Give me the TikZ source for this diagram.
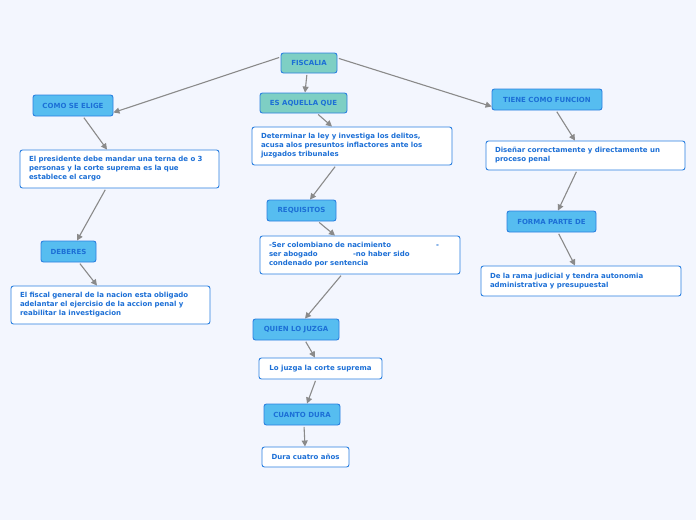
\documentclass[tikz,border=0pt]{standalone}
\usepackage{fontspec}
\setmainfont{DejaVu Sans}
\usetikzlibrary{arrows.meta}
\definecolor{bg}{HTML}{F3F6FE}
\definecolor{txt}{HTML}{1C6FD6}
\definecolor{bord}{HTML}{2A7FE0}
\definecolor{lblue}{HTML}{56BDF0}
\definecolor{teal}{HTML}{7ECFC4}
\definecolor{arr}{HTML}{8A8A8A}
\tikzset{
  base/.style={draw=bord, line width=0.9pt, rounded corners=2.5pt, text=txt,
    font=\fontsize{7}{9}\selectfont\bfseries, inner sep=0pt},
  topic/.style={base, fill=lblue, align=center},
  tealbox/.style={base, fill=teal, align=center},
  note/.style={base, fill=white, align=left, inner xsep=9pt},
  conn/.style={draw=arr, line width=1.1pt, -{Triangle[length=6pt,width=6pt]}, shorten <=1.5pt},
}
\begin{document}
\begin{tikzpicture}[x=1pt,y=-1pt]
\useasboundingbox[fill=bg] (0,0) rectangle (696,520);
% nodes
\node[tealbox, minimum width=56, minimum height=20] (fis) at (309,63) {FISCALIA};
\node[tealbox, minimum width=87, minimum height=20] (esa) at (303.5,103) {ES AQUELLA QUE};
\node[topic, minimum width=80, minimum height=21] (como) at (73,105.5) {COMO SE ELIGE};
\node[topic, minimum width=110, minimum height=21] (tiene) at (547,99.5) {TIENE COMO FUNCION};
\node[note, text width=182, minimum height=38] (det) at (352,146) {Determinar la ley y investiga los delitos,\\acusa alos presuntos inflactores ante los\\juzgados tribunales};
\node[note, text width=181, minimum height=38] (pres) at (119.5,169) {El presidente debe mandar una terna de o 3\\personas y la corte suprema es la que\\establece el cargo};
\node[topic, minimum width=55, minimum height=21] (deb) at (68.5,251.5) {DEBERES};
\node[note, text width=181, minimum height=38] (fisc) at (110.5,305) {El fiscal general de la nacion esta obligado\\adelantar el ejercisio de la accion penal y\\reabilitar la investigacion};
\node[topic, minimum width=69, minimum height=21] (req) at (301.5,210.5) {REQUISITOS};
\node[note, text width=182, minimum height=38] (ser) at (360,255) {\makebox[167pt][l]{-Ser colombiano de nacimiento}-\\\makebox[84pt][l]{ser abogado}-no haber sido\\condenado por sentencia};
\node[topic, minimum width=86, minimum height=21] (quien) at (296,329.5) {QUIEN LO JUZGA};
\node[base, fill=white, minimum width=123, minimum height=21] (lo) at (320.5,368.5) {Lo juzga la corte suprema};
\node[topic, minimum width=76, minimum height=21] (cuanto) at (302,414.5) {CUANTO DURA};
\node[base, fill=white, minimum width=87, minimum height=20] (dura) at (305.5,457) {Dura cuatro años};
\node[note, text width=181, minimum height=29] (dis) at (585.5,155.5) {Diseñar correctamente y directamente un\\proceso penal};
\node[topic, minimum width=89, minimum height=21] (forma) at (551.5,221.5) {FORMA PARTE DE};
\node[note, text width=182, minimum height=30] (rama) at (581,281) {De la rama judicial y tendra autonomia\\administrativa y presupuestal};
% connectors
\draw[conn] ([yshift=6]fis.west) -- ([yshift=-7]como.east);
\draw[conn] ([xshift=-2]fis.south) -- ([xshift=1.5]esa.north);
\draw[conn] ([yshift=5]fis.east) -- ([yshift=-7]tiene.west);
\draw[conn] ([xshift=10]como.south) -- ([xshift=-12.5]pres.north);
\draw[conn] ([xshift=-13.5]pres.south) -- ([xshift=8.5]deb.north);
\draw[conn] ([xshift=10.5]deb.south) -- ([xshift=-13.5]fisc.north);
\draw[conn] ([xshift=13.5]esa.south) -- ([xshift=-20]det.north);
\draw[conn] ([xshift=-16]det.south) -- ([xshift=8.5]req.north);
\draw[conn] ([xshift=16.5]req.south) -- ([xshift=-25]ser.north);
\draw[conn] ([xshift=-18]ser.south) -- ([xshift=9]quien.north);
\draw[conn] ([xshift=9]quien.south) -- ([xshift=-5.5]lo.north);
\draw[conn] ([xshift=-4.5]lo.south) -- ([xshift=5]cuanto.north);
\draw[conn] ([xshift=2]cuanto.south) -- ([xshift=-0.5]dura.north);
\draw[conn] ([xshift=9]tiene.south) -- ([xshift=-10.5]dis.north);
\draw[conn] ([xshift=-8.5]dis.south) -- ([xshift=6.5]forma.north);
\draw[conn] ([xshift=6.5]forma.south) -- ([xshift=-6]rama.north);
\end{tikzpicture}
\end{document}
